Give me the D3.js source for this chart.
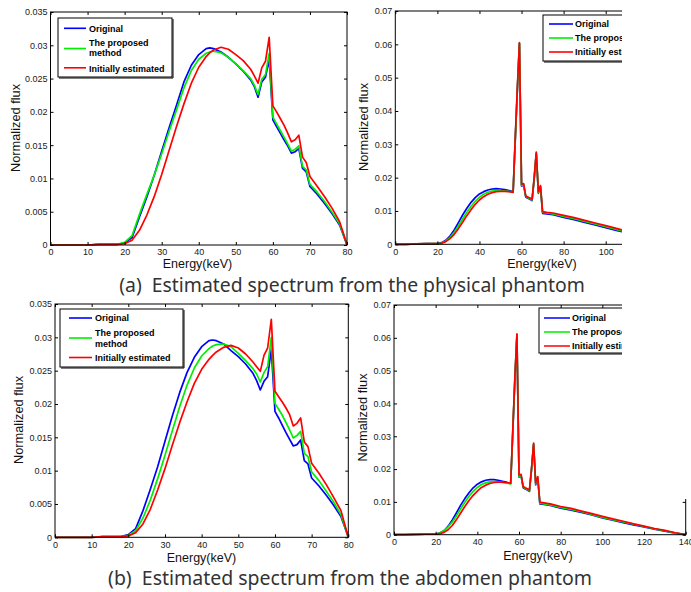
<!DOCTYPE html>
<html><head><meta charset="utf-8">
<script src="https://cdn.jsdelivr.net/npm/d3@7"></script>
<style>body{margin:0;background:#fff}svg{display:block}</style>
</head><body>
<svg id="c" width="691" height="592"></svg>
<script>
// ---------- data ----------
const energyLeft = [0,5,10,13,16,18,20,22,24,26,28,30,32,34,36,38,40,42,43,44,46,48,50,52,54,55,56,57,58,59,60,61,62,63,64,65,66,67,68,69,70,72,74,76,78,79,80];
const origA = [0,0,0,0.0001,0.0001,0.0001,0.0003,0.0011,0.0042,0.0072,0.0105,0.0141,0.0176,0.021,0.0245,0.027,0.0286,0.0295,0.0296,0.0295,0.029,0.0282,0.0272,0.0261,0.0248,0.0238,0.0222,0.0245,0.0252,0.0279,0.0188,0.0178,0.0168,0.0158,0.0149,0.0138,0.014,0.0145,0.0115,0.011,0.0088,0.0076,0.0062,0.0047,0.003,0.0015,0];
const propA = [0,0,0,0.0001,0.0001,0.0001,0.0004,0.0014,0.0046,0.0076,0.0105,0.0137,0.0171,0.0203,0.0236,0.0262,0.0279,0.0288,0.029,0.0291,0.0289,0.0282,0.0272,0.0262,0.025,0.024,0.0226,0.0249,0.0256,0.0288,0.0192,0.0182,0.0172,0.0162,0.0152,0.0141,0.0144,0.0149,0.0118,0.0113,0.0091,0.0079,0.0065,0.0049,0.0032,0.0016,0];
const initA = [0,0,0,0.0001,0.0001,0.0001,0.0002,0.0007,0.0022,0.0045,0.0073,0.0106,0.0142,0.0178,0.0212,0.0243,0.0267,0.0283,0.0289,0.0293,0.0297,0.0294,0.0286,0.0277,0.0264,0.0254,0.0243,0.0266,0.0276,0.0312,0.0209,0.02,0.019,0.018,0.0168,0.0155,0.0158,0.0165,0.0132,0.0124,0.0103,0.0088,0.0072,0.0055,0.0035,0.0018,0];
const origB = [0,0,0,0.0001,0.0001,0.0001,0.0004,0.0013,0.004,0.0072,0.0106,0.0144,0.0182,0.0217,0.0247,0.027,0.0286,0.0295,0.0296,0.0295,0.029,0.028,0.0271,0.026,0.0246,0.0235,0.0221,0.0234,0.0241,0.0282,0.0189,0.0179,0.0168,0.0157,0.0147,0.0137,0.0139,0.0146,0.0115,0.011,0.0089,0.0077,0.0063,0.0048,0.0031,0.0016,0];
const propB = [0,0,0,0.0001,0.0001,0.0001,0.0003,0.001,0.0029,0.0056,0.0088,0.0123,0.016,0.0196,0.0228,0.0254,0.0272,0.0283,0.0287,0.0289,0.029,0.0286,0.0276,0.0265,0.0253,0.0245,0.0233,0.0247,0.0256,0.03,0.0201,0.0192,0.0183,0.0172,0.0161,0.0149,0.0153,0.0159,0.0126,0.0121,0.0098,0.0085,0.0069,0.0053,0.0034,0.0017,0];
const initB = [0,0,0,0.0001,0.0001,0.0001,0.0002,0.0007,0.002,0.0042,0.0071,0.0103,0.0138,0.0172,0.0203,0.0231,0.0252,0.0267,0.0273,0.0278,0.0285,0.0288,0.0284,0.0275,0.0263,0.0256,0.0249,0.0273,0.0284,0.0327,0.0219,0.0211,0.0203,0.0194,0.0184,0.0167,0.0171,0.0179,0.0143,0.0136,0.0111,0.0096,0.0079,0.006,0.004,0.002,0];

const energyRight = [0,5,10,15,20,22,24,26,28,30,32,34,36,38,40,42,44,46,48,50,52,54,56,57,58,59,60,61,62,63,64,65,66,67,68,69,70,72,75,80,85,90,95,100,105,110,115,120,125,130,135,140];
const origC = [0,0,0.0001,0.0002,0.0002,0.0005,0.0012,0.0025,0.0043,0.0065,0.0088,0.0108,0.0126,0.014,0.0151,0.0158,0.0163,0.0166,0.0167,0.0166,0.0164,0.0161,0.0158,0.031,0.046,0.0602,0.0175,0.0177,0.0142,0.0138,0.0135,0.0131,0.0195,0.0272,0.0153,0.0172,0.0093,0.0091,0.0089,0.0081,0.0074,0.0066,0.0058,0.005,0.0042,0.0035,0.0028,0.0022,0.0016,0.0011,0.0005,0];
const propC = [0,0,0.0001,0.0002,0.0002,0.0004,0.001,0.002,0.0036,0.0055,0.0076,0.0096,0.0114,0.0129,0.0141,0.015,0.0156,0.016,0.0161,0.0161,0.016,0.0159,0.0157,0.0312,0.0465,0.0603,0.0177,0.0179,0.0144,0.014,0.0137,0.0133,0.0197,0.0274,0.0155,0.0174,0.0096,0.0094,0.0091,0.0084,0.0077,0.0069,0.0061,0.0053,0.0045,0.0037,0.003,0.0024,0.0017,0.0012,0.0006,0];
const initC = [0,0,0.0001,0.0002,0.0002,0.0003,0.0008,0.0017,0.003,0.0047,0.0066,0.0086,0.0104,0.012,0.0133,0.0143,0.015,0.0155,0.0158,0.0159,0.0159,0.0158,0.0156,0.0318,0.047,0.0605,0.018,0.0182,0.0145,0.0142,0.0139,0.0135,0.02,0.0277,0.0158,0.0176,0.0098,0.0096,0.0094,0.0087,0.008,0.0072,0.0064,0.0056,0.0048,0.004,0.0032,0.0026,0.0019,0.0013,0.0006,0];
const origD = [0,0,0.0001,0.0002,0.0002,0.0005,0.0012,0.0026,0.0045,0.0067,0.009,0.011,0.0128,0.0143,0.0154,0.0161,0.0166,0.0168,0.0168,0.0166,0.0163,0.016,0.0156,0.031,0.047,0.0608,0.0176,0.0179,0.0143,0.0139,0.0136,0.0132,0.0198,0.0275,0.0152,0.0172,0.0094,0.0092,0.0089,0.0081,0.0075,0.0068,0.006,0.0051,0.0044,0.0037,0.003,0.0024,0.0017,0.0011,0.0005,0];
const propD = [0,0,0.0001,0.0002,0.0002,0.0005,0.0013,0.0024,0.0039,0.0058,0.0079,0.0099,0.0117,0.0132,0.0144,0.0153,0.0158,0.0161,0.0162,0.0161,0.0159,0.0157,0.0155,0.0312,0.0472,0.0609,0.0178,0.018,0.0145,0.0141,0.0138,0.0134,0.0199,0.0276,0.0155,0.0174,0.0096,0.0094,0.0091,0.0083,0.0077,0.007,0.0062,0.0053,0.0046,0.0039,0.0032,0.0025,0.0018,0.0012,0.0005,0];
const initD = [0,0,0.0001,0.0002,0.0002,0.0003,0.0007,0.0015,0.0028,0.0046,0.0066,0.0086,0.0104,0.012,0.0133,0.0144,0.0151,0.0156,0.0159,0.016,0.016,0.0159,0.0157,0.0318,0.0478,0.0612,0.0182,0.0184,0.0147,0.0143,0.014,0.0136,0.0202,0.0279,0.0158,0.0177,0.0099,0.0097,0.0094,0.0086,0.008,0.0072,0.0064,0.0056,0.0048,0.0041,0.0033,0.0026,0.0019,0.0013,0.0006,0];

const xTicksLeft = [0,10,20,30,40,50,60,70,80];
const xTicksRight = [0,20,40,60,80,100,120,140];
const yTicksLeft = [0,0.005,0.01,0.015,0.02,0.025,0.03,0.035];
const yTicksRight = [0,0.01,0.02,0.03,0.04,0.05,0.06,0.07];
const seriesNames = ["Original","The proposed method","Initially estimated"];
const captions = ["(a)  Estimated spectrum from the physical phantom","(b)  Estimated spectrum from the abdomen phantom"];
const xLabel = "Energy(keV)", yLabel = "Normalized flux";

// ---------- layout ----------
const colors = ["#0000ff","#00ee00","#ff0000"];
const svg = d3.select("#c");
const defs = svg.append("defs");
const tickFont = "'Liberation Sans', Arial, sans-serif";

const panels = [
  {left:50.5,right:347,top:12,bottom:245,xMax:80,yMax:0.035,xt:xTicksLeft,yt:yTicksLeft,E:energyLeft,S:[origA,propA,initA],
   xl:[197.5,268.3],yl:[15,128],clip:null,labelMaxX:700,
   lg:{x:58,y:18,w:114,h:59,l0:64,l1:86,tx:89,rows:[[28.3,[[28.3,seriesNames[0]]]],[48.5,[[42.6,"The proposed"],[53,"method"]]],[67.8,[[68.8,seriesNames[2]]]]]}},
  {left:395.3,right:395.3+140*2.104,top:11,bottom:244.3,xMax:140,yMax:0.07,xt:xTicksRight,yt:yTicksRight,E:energyRight,S:[origC,propC,initC],
   xl:[542,268.3],yl:[363,127],clip:[[0,0,622,300]],labelMaxX:622,
   lg:{x:543,y:15,w:130,h:46,l0:549,l1:573,tx:575,rows:[[24,[[24,seriesNames[0]]]],[38,[[38,seriesNames[1]]]],[52,[[52,seriesNames[2]]]]]}},
  {left:55,right:348.3,top:304,bottom:537.3,xMax:80,yMax:0.035,xt:xTicksLeft,yt:yTicksLeft,E:energyLeft,S:[origB,propB,initB],
   xl:[201.5,562],yl:[18,420],clip:null,labelMaxX:700,
   lg:{x:60,y:309,w:123,h:58,l0:69,l1:92,tx:95,rows:[[318,[[318,seriesNames[0]]]],[338,[[332.3,"The proposed"],[344,"method"]]],[357.5,[[358,seriesNames[2]]]]]}},
  {left:394,right:685.7,top:305,bottom:534.7,xMax:140,yMax:0.07,xt:xTicksRight,yt:yTicksRight,E:energyRight,S:[origD,propD,initD],
   xl:[538,560],yl:[362,417.5],clip:[[0,295,622,297],[622,499,69,93]],labelMaxX:700,
   lg:{x:539,y:308,w:130,h:45,l0:544,l1:570,tx:572,rows:[[318,[[318,seriesNames[0]]]],[332,[[332,seriesNames[1]]]],[346,[[346,seriesNames[2]]]]]}}
];

const fmt = v => String(+v.toFixed(4));

panels.forEach((p,i) => {
  let g = svg.append("g");
  if (p.clip) {
    const cp = defs.append("clipPath").attr("id","clip"+i);
    p.clip.forEach(r => cp.append("rect").attr("x",r[0]).attr("y",r[1]).attr("width",r[2]).attr("height",r[3]));
    g.attr("clip-path","url(#clip"+i+")");
  }
  const x = d3.scaleLinear().domain([0,p.xMax]).range([p.left,p.right]);
  const y = d3.scaleLinear().domain([0,p.yMax]).range([p.bottom,p.top]);

  // curves
  const line = d3.line().x((d,j)=>x(p.E[j])).y(d=>y(d));
  p.S.forEach((s,k) => {
    g.append("path").datum(s).attr("d",line).attr("fill","none")
     .attr("stroke",colors[k]).attr("stroke-width",1.7).attr("stroke-linejoin","round");
  });

  // axes
  const styleAxis = sel => {
    sel.select(".domain").remove();
    sel.selectAll(".tick line").attr("stroke","#000");
    sel.selectAll(".tick text").attr("font-family",tickFont).attr("font-size","9px").attr("fill","#1a1a1a");
  };
  const xLabFmt = v => x(v) <= p.labelMaxX ? fmt(v) : "";
  g.append("g").attr("transform",`translate(0,${p.bottom})`)
    .call(d3.axisBottom(x).tickValues(p.xt).tickFormat(xLabFmt).tickSizeInner(-3).tickSizeOuter(0).tickPadding(4)).call(styleAxis);
  g.append("g").attr("transform",`translate(0,${p.top})`)
    .call(d3.axisTop(x).tickValues(p.xt).tickFormat("").tickSizeInner(-3).tickSizeOuter(0)).call(styleAxis);
  g.append("g").attr("transform",`translate(${p.left},0)`)
    .call(d3.axisLeft(y).tickValues(p.yt).tickFormat(fmt).tickSizeInner(-3).tickSizeOuter(0).tickPadding(3)).call(styleAxis);
  g.append("g").attr("transform",`translate(${p.right},0)`)
    .call(d3.axisRight(y).tickValues(p.yt).tickFormat("").tickSizeInner(-3).tickSizeOuter(0)).call(styleAxis);
  g.append("rect").attr("x",p.left).attr("y",p.top).attr("width",p.right-p.left).attr("height",p.bottom-p.top)
    .attr("fill","none").attr("stroke","#000").attr("stroke-width",1);

  // axis labels
  g.append("text").attr("x",p.xl[0]).attr("y",p.xl[1]).attr("text-anchor","middle")
    .attr("font-family",tickFont).attr("font-size","12.5px").attr("fill","#111").text(xLabel);
  g.append("text").attr("transform",`translate(${p.yl[0]+4.5},${p.yl[1]}) rotate(-90)`).attr("text-anchor","middle")
    .attr("font-family",tickFont).attr("font-size","12.8px").attr("fill","#111").text(yLabel);

  // legend
  const L = p.lg;
  const lg = g.append("g");
  lg.append("rect").attr("x",L.x).attr("y",L.y).attr("width",L.w).attr("height",L.h)
    .attr("fill","#fff").attr("stroke","#000").attr("stroke-width",1);
  lg.append("path").attr("d",`M${L.x+L.w+1},${L.y+1}V${L.y+L.h+1}H${L.x+1}`).attr("fill","none").attr("stroke","#000").attr("stroke-width",1);
  L.rows.forEach((r,k) => {
    lg.append("line").attr("x1",L.l0).attr("x2",L.l1).attr("y1",r[0]).attr("y2",r[0])
      .attr("stroke",colors[k]).attr("stroke-width",1.6);
    r[1].forEach(t => lg.append("text").attr("x",L.tx).attr("y",t[0]+3.3)
      .attr("font-family",tickFont).attr("font-size","9px").attr("font-weight","bold").attr("fill","#000").text(t[1]));
  });
});

// captions
const capPos = [[352,291.5,466],[350,585,484]];
captions.forEach((c,i) => {
  const t = svg.append("text").attr("x",capPos[i][0]).attr("y",capPos[i][1]).attr("text-anchor","middle")
    .attr("font-family","'Noto Sans', 'Open Sans', sans-serif").attr("font-size","18px").attr("fill","#333")
    .style("white-space","pre").text(c);
  const w = t.node().getComputedTextLength();
  t.attr("font-size",(18*capPos[i][2]/w).toFixed(2)+"px");
});
</script>
</body></html>
